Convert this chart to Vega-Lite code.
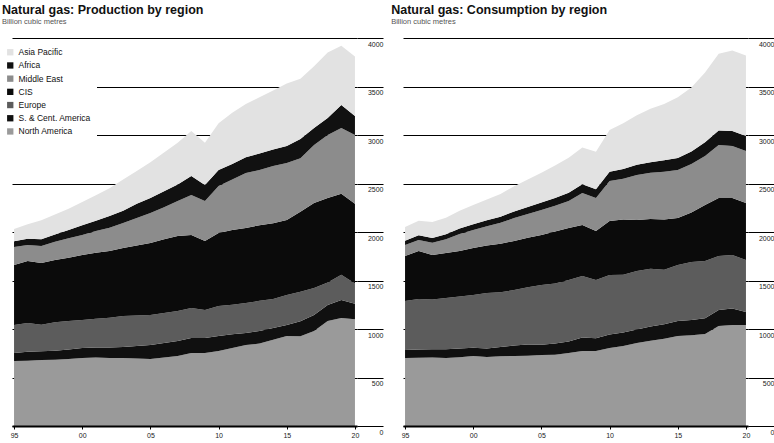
{
"$schema":"https://vega.github.io/schema/vega-lite/v6.json",
"background":"white",
"padding":{"left":0,"top":3,"right":0,"bottom":0},
"spacing":7,
"config":{"view":{"stroke":null},"font":"Liberation Sans",
"title":{"anchor":"start","fontSize":12.5,"fontWeight":"bold","color":"#111","subtitleFontSize":7.5,"subtitleColor":"#555","subtitlePadding":2,"offset":12}},
"resolve":{"legend":{"color":"independent"}},
"datasets":{
"production":[
{"year":1995,"region":"North America","value":670},{"year":1995,"region":"S. & Cent. America","value":83},{"year":1995,"region":"Europe","value":288},{"year":1995,"region":"CIS","value":619},{"year":1995,"region":"Middle East","value":185},{"year":1995,"region":"Africa","value":60},{"year":1995,"region":"Asia Pacific","value":125},
{"year":1996,"region":"North America","value":672},{"year":1996,"region":"S. & Cent. America","value":93},{"year":1996,"region":"Europe","value":297},{"year":1996,"region":"CIS","value":639},{"year":1996,"region":"Middle East","value":165},{"year":1996,"region":"Africa","value":64},{"year":1996,"region":"Asia Pacific","value":150},
{"year":1997,"region":"North America","value":680},{"year":1997,"region":"S. & Cent. America","value":90},{"year":1997,"region":"Europe","value":275},{"year":1997,"region":"CIS","value":635},{"year":1997,"region":"Middle East","value":176},{"year":1997,"region":"Africa","value":69},{"year":1997,"region":"Asia Pacific","value":195},
{"year":1998,"region":"North America","value":682},{"year":1998,"region":"S. & Cent. America","value":93},{"year":1998,"region":"Europe","value":295},{"year":1998,"region":"CIS","value":641},{"year":1998,"region":"Middle East","value":189},{"year":1998,"region":"Africa","value":75},{"year":1998,"region":"Asia Pacific","value":205},
{"year":1999,"region":"North America","value":690},{"year":1999,"region":"S. & Cent. America","value":98},{"year":1999,"region":"Europe","value":294},{"year":1999,"region":"CIS","value":653},{"year":1999,"region":"Middle East","value":200},{"year":1999,"region":"Africa","value":85},{"year":1999,"region":"Asia Pacific","value":220},
{"year":2000,"region":"North America","value":701},{"year":2000,"region":"S. & Cent. America","value":103},{"year":2000,"region":"Europe","value":289},{"year":2000,"region":"CIS","value":670},{"year":2000,"region":"Middle East","value":206},{"year":2000,"region":"Africa","value":101},{"year":2000,"region":"Asia Pacific","value":240},
{"year":2001,"region":"North America","value":705},{"year":2001,"region":"S. & Cent. America","value":105},{"year":2001,"region":"Europe","value":295},{"year":2001,"region":"CIS","value":680},{"year":2001,"region":"Middle East","value":225},{"year":2001,"region":"Africa","value":105},{"year":2001,"region":"Asia Pacific","value":265},
{"year":2002,"region":"North America","value":700},{"year":2002,"region":"S. & Cent. America","value":108},{"year":2002,"region":"Europe","value":307},{"year":2002,"region":"CIS","value":690},{"year":2002,"region":"Middle East","value":240},{"year":2002,"region":"Africa","value":120},{"year":2002,"region":"Asia Pacific","value":285},
{"year":2003,"region":"North America","value":701},{"year":2003,"region":"S. & Cent. America","value":113},{"year":2003,"region":"Europe","value":320},{"year":2003,"region":"CIS","value":701},{"year":2003,"region":"Middle East","value":258},{"year":2003,"region":"Africa","value":127},{"year":2003,"region":"Asia Pacific","value":320},
{"year":2004,"region":"North America","value":695},{"year":2004,"region":"S. & Cent. America","value":130},{"year":2004,"region":"Europe","value":315},{"year":2004,"region":"CIS","value":722},{"year":2004,"region":"Middle East","value":283},{"year":2004,"region":"Africa","value":145},{"year":2004,"region":"Asia Pacific","value":340},
{"year":2005,"region":"North America","value":691},{"year":2005,"region":"S. & Cent. America","value":144},{"year":2005,"region":"Europe","value":309},{"year":2005,"region":"CIS","value":743},{"year":2005,"region":"Middle East","value":309},{"year":2005,"region":"Africa","value":154},{"year":2005,"region":"Asia Pacific","value":370},
{"year":2006,"region":"North America","value":705},{"year":2006,"region":"S. & Cent. America","value":150},{"year":2006,"region":"Europe","value":310},{"year":2006,"region":"CIS","value":760},{"year":2006,"region":"Middle East","value":330},{"year":2006,"region":"Africa","value":165},{"year":2006,"region":"Asia Pacific","value":400},
{"year":2007,"region":"North America","value":722},{"year":2007,"region":"S. & Cent. America","value":154},{"year":2007,"region":"Europe","value":310},{"year":2007,"region":"CIS","value":773},{"year":2007,"region":"Middle East","value":361},{"year":2007,"region":"Africa","value":170},{"year":2007,"region":"Asia Pacific","value":430},
{"year":2008,"region":"North America","value":753},{"year":2008,"region":"S. & Cent. America","value":154},{"year":2008,"region":"Europe","value":309},{"year":2008,"region":"CIS","value":753},{"year":2008,"region":"Middle East","value":412},{"year":2008,"region":"Africa","value":196},{"year":2008,"region":"Asia Pacific","value":463},
{"year":2009,"region":"North America","value":753},{"year":2009,"region":"S. & Cent. America","value":154},{"year":2009,"region":"Europe","value":289},{"year":2009,"region":"CIS","value":711},{"year":2009,"region":"Middle East","value":413},{"year":2009,"region":"Africa","value":165},{"year":2009,"region":"Asia Pacific","value":435},
{"year":2010,"region":"North America","value":773},{"year":2010,"region":"S. & Cent. America","value":155},{"year":2010,"region":"Europe","value":309},{"year":2010,"region":"CIS","value":753},{"year":2010,"region":"Middle East","value":484},{"year":2010,"region":"Africa","value":165},{"year":2010,"region":"Asia Pacific","value":481},
{"year":2011,"region":"North America","value":805},{"year":2011,"region":"S. & Cent. America","value":140},{"year":2011,"region":"Europe","value":305},{"year":2011,"region":"CIS","value":770},{"year":2011,"region":"Middle East","value":520},{"year":2011,"region":"Africa","value":160},{"year":2011,"region":"Asia Pacific","value":530},
{"year":2012,"region":"North America","value":835},{"year":2012,"region":"S. & Cent. America","value":125},{"year":2012,"region":"Europe","value":308},{"year":2012,"region":"CIS","value":773},{"year":2012,"region":"Middle East","value":567},{"year":2012,"region":"Africa","value":162},{"year":2012,"region":"Asia Pacific","value":550},
{"year":2013,"region":"North America","value":850},{"year":2013,"region":"S. & Cent. America","value":130},{"year":2013,"region":"Europe","value":310},{"year":2013,"region":"CIS","value":780},{"year":2013,"region":"Middle East","value":570},{"year":2013,"region":"Africa","value":170},{"year":2013,"region":"Asia Pacific","value":580},
{"year":2014,"region":"North America","value":890},{"year":2014,"region":"S. & Cent. America","value":120},{"year":2014,"region":"Europe","value":300},{"year":2014,"region":"CIS","value":780},{"year":2014,"region":"Middle East","value":590},{"year":2014,"region":"Africa","value":170},{"year":2014,"region":"Asia Pacific","value":610},
{"year":2015,"region":"North America","value":928},{"year":2015,"region":"S. & Cent. America","value":113},{"year":2015,"region":"Europe","value":310},{"year":2015,"region":"CIS","value":773},{"year":2015,"region":"Middle East","value":587},{"year":2015,"region":"Africa","value":176},{"year":2015,"region":"Asia Pacific","value":643},
{"year":2016,"region":"North America","value":925},{"year":2016,"region":"S. & Cent. America","value":155},{"year":2016,"region":"Europe","value":305},{"year":2016,"region":"CIS","value":825},{"year":2016,"region":"Middle East","value":550},{"year":2016,"region":"Africa","value":200},{"year":2016,"region":"Asia Pacific","value":620},
{"year":2017,"region":"North America","value":979},{"year":2017,"region":"S. & Cent. America","value":165},{"year":2017,"region":"Europe","value":279},{"year":2017,"region":"CIS","value":877},{"year":2017,"region":"Middle East","value":597},{"year":2017,"region":"Africa","value":175},{"year":2017,"region":"Asia Pacific","value":638},
{"year":2018,"region":"North America","value":1082},{"year":2018,"region":"S. & Cent. America","value":165},{"year":2018,"region":"Europe","value":233},{"year":2018,"region":"CIS","value":870},{"year":2018,"region":"Middle East","value":650},{"year":2018,"region":"Africa","value":175},{"year":2018,"region":"Asia Pacific","value":675},
{"year":2019,"region":"North America","value":1113},{"year":2019,"region":"S. & Cent. America","value":187},{"year":2019,"region":"Europe","value":260},{"year":2019,"region":"CIS","value":835},{"year":2019,"region":"Middle East","value":677},{"year":2019,"region":"Africa","value":237},{"year":2019,"region":"Asia Pacific","value":611},
{"year":2020,"region":"North America","value":1100},{"year":2020,"region":"S. & Cent. America","value":160},{"year":2020,"region":"Europe","value":210},{"year":2020,"region":"CIS","value":820},{"year":2020,"region":"Middle East","value":710},{"year":2020,"region":"Africa","value":196},{"year":2020,"region":"Asia Pacific","value":614}
],
"consumption":[
{"year":1995,"region":"North America","value":701},{"year":1995,"region":"S. & Cent. America","value":83},{"year":1995,"region":"Europe","value":505},{"year":1995,"region":"CIS","value":464},{"year":1995,"region":"Middle East","value":113},{"year":1995,"region":"Africa","value":45},{"year":1995,"region":"Asia Pacific","value":140},
{"year":1996,"region":"North America","value":703},{"year":1996,"region":"S. & Cent. America","value":85},{"year":1996,"region":"Europe","value":522},{"year":1996,"region":"CIS","value":494},{"year":1996,"region":"Middle East","value":114},{"year":1996,"region":"Africa","value":48},{"year":1996,"region":"Asia Pacific","value":150},
{"year":1997,"region":"North America","value":705},{"year":1997,"region":"S. & Cent. America","value":87},{"year":1997,"region":"Europe","value":513},{"year":1997,"region":"CIS","value":458},{"year":1997,"region":"Middle East","value":125},{"year":1997,"region":"Africa","value":50},{"year":1997,"region":"Asia Pacific","value":165},
{"year":1998,"region":"North America","value":700},{"year":1998,"region":"S. & Cent. America","value":90},{"year":1998,"region":"Europe","value":530},{"year":1998,"region":"CIS","value":464},{"year":1998,"region":"Middle East","value":140},{"year":1998,"region":"Africa","value":52},{"year":1998,"region":"Asia Pacific","value":170},
{"year":1999,"region":"North America","value":710},{"year":1999,"region":"S. & Cent. America","value":88},{"year":1999,"region":"Europe","value":537},{"year":1999,"region":"CIS","value":470},{"year":1999,"region":"Middle East","value":175},{"year":1999,"region":"Africa","value":55},{"year":1999,"region":"Asia Pacific","value":185},
{"year":2000,"region":"North America","value":722},{"year":2000,"region":"S. & Cent. America","value":84},{"year":2000,"region":"Europe","value":545},{"year":2000,"region":"CIS","value":484},{"year":2000,"region":"Middle East","value":186},{"year":2000,"region":"Africa","value":58},{"year":2000,"region":"Asia Pacific","value":200},
{"year":2001,"region":"North America","value":712},{"year":2001,"region":"S. & Cent. America","value":88},{"year":2001,"region":"Europe","value":570},{"year":2001,"region":"CIS","value":490},{"year":2001,"region":"Middle East","value":200},{"year":2001,"region":"Africa","value":60},{"year":2001,"region":"Asia Pacific","value":215},
{"year":2002,"region":"North America","value":720},{"year":2002,"region":"S. & Cent. America","value":95},{"year":2002,"region":"Europe","value":565},{"year":2002,"region":"CIS","value":500},{"year":2002,"region":"Middle East","value":215},{"year":2002,"region":"Africa","value":63},{"year":2002,"region":"Asia Pacific","value":235},
{"year":2003,"region":"North America","value":722},{"year":2003,"region":"S. & Cent. America","value":108},{"year":2003,"region":"Europe","value":572},{"year":2003,"region":"CIS","value":505},{"year":2003,"region":"Middle East","value":237},{"year":2003,"region":"Africa","value":67},{"year":2003,"region":"Asia Pacific","value":260},
{"year":2004,"region":"North America","value":725},{"year":2004,"region":"S. & Cent. America","value":115},{"year":2004,"region":"Europe","value":590},{"year":2004,"region":"CIS","value":510},{"year":2004,"region":"Middle East","value":245},{"year":2004,"region":"Africa","value":72},{"year":2004,"region":"Asia Pacific","value":285},
{"year":2005,"region":"North America","value":732},{"year":2005,"region":"S. & Cent. America","value":106},{"year":2005,"region":"Europe","value":616},{"year":2005,"region":"CIS","value":515},{"year":2005,"region":"Middle East","value":258},{"year":2005,"region":"Africa","value":78},{"year":2005,"region":"Asia Pacific","value":305},
{"year":2006,"region":"North America","value":735},{"year":2006,"region":"S. & Cent. America","value":115},{"year":2006,"region":"Europe","value":620},{"year":2006,"region":"CIS","value":535},{"year":2006,"region":"Middle East","value":265},{"year":2006,"region":"Africa","value":80},{"year":2006,"region":"Asia Pacific","value":335},
{"year":2007,"region":"North America","value":753},{"year":2007,"region":"S. & Cent. America","value":117},{"year":2007,"region":"Europe","value":635},{"year":2007,"region":"CIS","value":536},{"year":2007,"region":"Middle East","value":279},{"year":2007,"region":"Africa","value":85},{"year":2007,"region":"Asia Pacific","value":360},
{"year":2008,"region":"North America","value":773},{"year":2008,"region":"S. & Cent. America","value":140},{"year":2008,"region":"Europe","value":633},{"year":2008,"region":"CIS","value":526},{"year":2008,"region":"Middle East","value":330},{"year":2008,"region":"Africa","value":90},{"year":2008,"region":"Asia Pacific","value":380},
{"year":2009,"region":"North America","value":773},{"year":2009,"region":"S. & Cent. America","value":132},{"year":2009,"region":"Europe","value":600},{"year":2009,"region":"CIS","value":505},{"year":2009,"region":"Middle East","value":340},{"year":2009,"region":"Africa","value":92},{"year":2009,"region":"Asia Pacific","value":385},
{"year":2010,"region":"North America","value":804},{"year":2010,"region":"S. & Cent. America","value":140},{"year":2010,"region":"Europe","value":613},{"year":2010,"region":"CIS","value":556},{"year":2010,"region":"Middle East","value":413},{"year":2010,"region":"Africa","value":95},{"year":2010,"region":"Asia Pacific","value":430},
{"year":2011,"region":"North America","value":825},{"year":2011,"region":"S. & Cent. America","value":140},{"year":2011,"region":"Europe","value":595},{"year":2011,"region":"CIS","value":570},{"year":2011,"region":"Middle East","value":420},{"year":2011,"region":"Africa","value":100},{"year":2011,"region":"Asia Pacific","value":470},
{"year":2012,"region":"North America","value":856},{"year":2012,"region":"S. & Cent. America","value":139},{"year":2012,"region":"Europe","value":603},{"year":2012,"region":"CIS","value":526},{"year":2012,"region":"Middle East","value":464},{"year":2012,"region":"Africa","value":105},{"year":2012,"region":"Asia Pacific","value":510},
{"year":2013,"region":"North America","value":880},{"year":2013,"region":"S. & Cent. America","value":145},{"year":2013,"region":"Europe","value":595},{"year":2013,"region":"CIS","value":515},{"year":2013,"region":"Middle East","value":475},{"year":2013,"region":"Africa","value":110},{"year":2013,"region":"Asia Pacific","value":550},
{"year":2014,"region":"North America","value":900},{"year":2014,"region":"S. & Cent. America","value":150},{"year":2014,"region":"Europe","value":560},{"year":2014,"region":"CIS","value":520},{"year":2014,"region":"Middle East","value":490},{"year":2014,"region":"Africa","value":120},{"year":2014,"region":"Asia Pacific","value":580},
{"year":2015,"region":"North America","value":928},{"year":2015,"region":"S. & Cent. America","value":154},{"year":2015,"region":"Europe","value":578},{"year":2015,"region":"CIS","value":484},{"year":2015,"region":"Middle East","value":495},{"year":2015,"region":"Africa","value":125},{"year":2015,"region":"Asia Pacific","value":625},
{"year":2016,"region":"North America","value":935},{"year":2016,"region":"S. & Cent. America","value":157},{"year":2016,"region":"Europe","value":598},{"year":2016,"region":"CIS","value":510},{"year":2016,"region":"Middle East","value":500},{"year":2016,"region":"Africa","value":130},{"year":2016,"region":"Asia Pacific","value":660},
{"year":2017,"region":"North America","value":948},{"year":2017,"region":"S. & Cent. America","value":162},{"year":2017,"region":"Europe","value":591},{"year":2017,"region":"CIS","value":577},{"year":2017,"region":"Middle East","value":506},{"year":2017,"region":"Africa","value":140},{"year":2017,"region":"Asia Pacific","value":720},
{"year":2018,"region":"North America","value":1031},{"year":2018,"region":"S. & Cent. America","value":165},{"year":2018,"region":"Europe","value":557},{"year":2018,"region":"CIS","value":597},{"year":2018,"region":"Middle East","value":547},{"year":2018,"region":"Africa","value":150},{"year":2018,"region":"Asia Pacific","value":790},
{"year":2019,"region":"North America","value":1041},{"year":2019,"region":"S. & Cent. America","value":170},{"year":2019,"region":"Europe","value":552},{"year":2019,"region":"CIS","value":587},{"year":2019,"region":"Middle East","value":537},{"year":2019,"region":"Africa","value":155},{"year":2019,"region":"Asia Pacific","value":830},
{"year":2020,"region":"North America","value":1041},{"year":2020,"region":"S. & Cent. America","value":134},{"year":2020,"region":"Europe","value":536},{"year":2020,"region":"CIS","value":588},{"year":2020,"region":"Middle East","value":536},{"year":2020,"region":"Africa","value":155},{"year":2020,"region":"Asia Pacific","value":830}
]},
"hconcat":[
{"title":{"text":"Natural gas: Production by region","subtitle":"Billion cubic metres","dx":2},
"width":345,"height":388,
"data":{"name":"production"},
"transform":[{"calculate":"indexof(['North America','S. & Cent. America','Europe','CIS','Middle East','Africa','Asia Pacific'], datum.region)","as":"stackOrder"}],
"mark":{"type":"area","interpolate":"linear"},
"encoding":{
"x":{"field":"year","type":"quantitative","scale":{"domain":[1994.85,2020.15],"nice":false,"zero":false},
"axis":{"values":[1995,2000,2005,2010,2015,2020],"labelExpr":"substring(toString(datum.value), 2, 4)","title":null,"grid":false,"domainColor":"#000","domainWidth":2,"tickSize":3,"tickColor":"#000","labelFontSize":7,"labelFlush":true,"labelPadding":2,"labelColor":"#222","zindex":1}},
"y":{"field":"value","type":"quantitative","stack":"zero","scale":{"domain":[0,4000],"nice":false},
"axis":{"orient":"right","values":[0,500,1000,1500,2000,2500,3000,3500,4000],"format":"d","title":null,"grid":true,"gridColor":"#000","gridWidth":1,"domain":false,"tickSize":26,"tickColor":"#000","labelAlign":"right","labelBaseline":"top","labelPadding":0,"labelOffset":2,"labelFontSize":7,"labelColor":"#222"}},
"color":{"field":"region","type":"nominal",
"scale":{"domain":["Asia Pacific","Africa","Middle East","CIS","Europe","S. & Cent. America","North America"],"range":["#e2e2e2","#111111","#8c8c8c","#0b0b0b","#5c5c5c","#101010","#9a9a9a"]},
"legend":{"orient":"none","legendX":-12,"legendY":4,"title":null,"symbolType":"square","symbolSize":40,"symbolStrokeWidth":0,"labelFontSize":8.5,"labelColor":"#111","rowPadding":4.2,"fillColor":"white","padding":6,"labelOffset":4,"labelLimit":200}},
"order":{"field":"stackOrder","type":"quantitative"}}},
{"title":{"text":"Natural gas: Consumption by region","subtitle":"Billion cubic metres","dx":-10},
"width":345,"height":388,
"data":{"name":"consumption"},
"transform":[{"calculate":"indexof(['North America','S. & Cent. America','Europe','CIS','Middle East','Africa','Asia Pacific'], datum.region)","as":"stackOrder"}],
"mark":{"type":"area","interpolate":"linear"},
"encoding":{
"x":{"field":"year","type":"quantitative","scale":{"domain":[1994.85,2020.15],"nice":false,"zero":false},
"axis":{"values":[1995,2000,2005,2010,2015,2020],"labelExpr":"substring(toString(datum.value), 2, 4)","title":null,"grid":false,"domainColor":"#000","domainWidth":2,"tickSize":3,"tickColor":"#000","labelFontSize":7,"labelFlush":true,"labelPadding":2,"labelColor":"#222","zindex":1}},
"y":{"field":"value","type":"quantitative","stack":"zero","scale":{"domain":[0,4000],"nice":false},
"axis":{"orient":"right","values":[0,500,1000,1500,2000,2500,3000,3500,4000],"format":"d","title":null,"grid":true,"gridColor":"#000","gridWidth":1,"domain":false,"tickSize":26,"tickColor":"#000","labelAlign":"right","labelBaseline":"top","labelPadding":0,"labelOffset":2,"labelFontSize":7,"labelColor":"#222"}},
"color":{"field":"region","type":"nominal",
"scale":{"domain":["Asia Pacific","Africa","Middle East","CIS","Europe","S. & Cent. America","North America"],"range":["#e2e2e2","#111111","#8c8c8c","#0b0b0b","#5c5c5c","#101010","#9a9a9a"]},
"legend":null},
"order":{"field":"stackOrder","type":"quantitative"}}}
]
}
